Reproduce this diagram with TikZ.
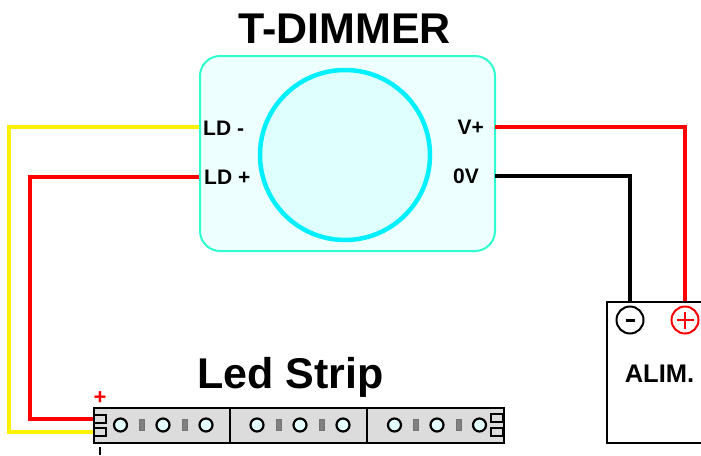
\documentclass[tikz,border=0pt]{standalone}
\usepackage{fontspec}
\setmainfont{Liberation Sans}
\definecolor{bodyfill}{HTML}{EEFFFF}
\definecolor{bodyline}{HTML}{2FFFD0}
\definecolor{discfill}{HTML}{DFFFFF}
\definecolor{discline}{HTML}{00F0FF}
\definecolor{stripfill}{HTML}{DCDCDC}
\definecolor{ledfill}{HTML}{E4FFFF}
\definecolor{resfill}{HTML}{808080}
\tikzset{
  wire/.style={line width=4pt,line join=miter},
  lbl/.style={font=\fontsize{21}{21}\selectfont\bfseries,inner sep=0pt},
  title/.style={font=\fontsize{43}{43}\selectfont\bfseries,inner sep=0pt},
  led/.style={circle,draw=black,fill=ledfill,line width=2.2pt,minimum size=13pt,inner sep=0pt},
  res/.style={rectangle,draw=black!55,fill=resfill,line width=1pt,minimum width=5.5pt,minimum height=11pt,inner sep=0pt},
  pad/.style={rectangle,draw=black,fill=stripfill,line width=2pt,minimum width=12pt,minimum height=7.5pt,inner sep=0pt},
  term/.style={circle,line width=2pt,fill=white,minimum size=27pt,inner sep=0pt},
  divider/.style={line width=2pt,draw=black},
}
\begin{document}
\begin{tikzpicture}[x=1pt,y=-1pt]
\useasboundingbox (0,0) rectangle (701,455);
\node[title] (ttl) at (344.5,28.5) {T-DIMMER};
\node[draw=bodyline,fill=bodyfill,line width=2pt,rounded corners=20pt,minimum width=295pt,minimum height=195pt,inner sep=0pt] (dimmer) at (347.5,153.5) {};
\node[circle,draw=discline,fill=discfill,line width=4.5pt,minimum size=170pt,inner sep=0pt] (disc) at (345,155) {};
\node[lbl,anchor=west] (ldm) at (203,128) {LD -};
\node[lbl,anchor=west] (ldp) at (204,177) {LD +};
\node[lbl,anchor=east] (vp) at (484,127) {V+};
\node[lbl,anchor=east] (ov) at (479,176) {0V};
\coordinate (dimLDm) at (199,127);
\coordinate (dimLDp) at (199,177);
\coordinate (dimVp) at (495,127);
\coordinate (dimOv) at (495,176);
% strip
\node[title] (striptitle) at (290.5,377) {Led Strip};
\node[draw=black,fill=stripfill,line width=2pt,minimum width=410pt,minimum height=35pt,inner sep=0pt] (strip) at (298.5,425.5) {};
\draw[divider] (230,408) -- (230,443);
\draw[divider] (367,408) -- (367,443);
\foreach \n/\x in {a/120.5,b/163,c/206,d/257,e/300,f/343,g/394.5,h/437,i/479.5}
  \node[led] (led\n) at (\x,425) {};
\foreach \n/\x in {a/142,b/185,c/279,d/322,e/416,f/459}
  \node[res] (res\n) at (\x,425) {};
\node[pad] (padl1) at (100,419) {};
\node[pad] (padl2) at (100,432) {};
\node[pad] (padr1) at (497,418) {};
\node[pad] (padr2) at (497,432) {};
\node[inner sep=0pt,text=red,font=\fontsize{22}{22}\selectfont\bfseries] (plus) at (100,398) {+};
\path[draw=black,line width=2.5pt] (100,447) -- (100,455);
% alim
\node[draw=black,fill=white,line width=2pt,minimum width=120pt,minimum height=141pt,inner sep=0pt] (alim) at (667,372.5) {};
\node[term,draw=black] (tm) at (630,320) {};
\node[term,draw=red] (tp) at (685,320) {};
\draw[line width=3pt] (625.5,320) -- (634.5,320);
\draw[line width=2.5pt,red] (676.5,320) -- (693.5,320) (685,311.5) -- (685,328.5);
\node[inner sep=0pt,font=\fontsize{25.5}{25.5}\selectfont\bfseries] (alimt) at (659.5,374) {ALIM.};
% wires
\draw[wire,yellow] (dimLDm) -- (9,127) -- (9,432) -- (padl2.west);
\draw[wire,red] (dimLDp) -- (30,177) -- (30,419) -- (padl1.west);
\draw[wire,red] (dimVp) -- (685,127) -- (tp |- alim.north);
\draw[wire,black] (dimOv) -- (630,176) -- (tm |- alim.north);
\end{tikzpicture}
\end{document}
